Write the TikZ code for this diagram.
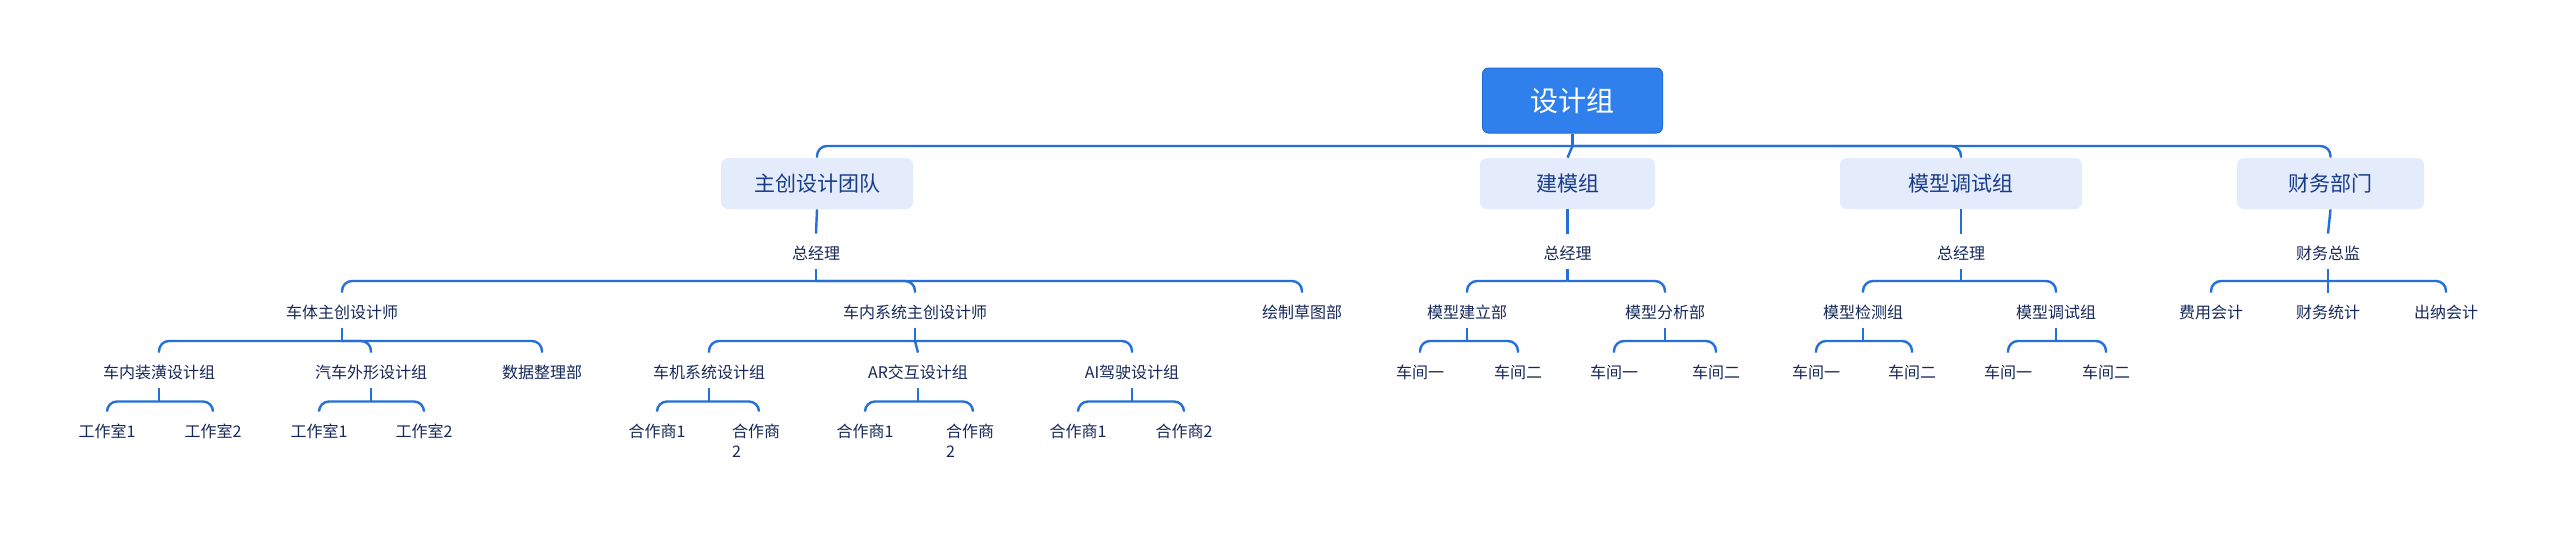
\documentclass[tikz,border=0pt]{standalone}
\usepackage{fontspec}
\newfontfamily\cjk{Noto Sans CJK SC}
\definecolor{linecol}{RGB}{36,112,216}
\definecolor{rootfill}{RGB}{47,128,237}
\definecolor{rootborder}{RGB}{32,108,214}
\definecolor{lonefill}{RGB}{228,236,252}
\definecolor{lonetext}{RGB}{24,60,140}
\definecolor{txtcol}{RGB}{22,40,90}
\newcommand\myfan[3]{%
  \draw[conn] (#1.south) -- (#1.south |- 0,#2);
  \foreach \kid in {#3}{\draw[conn,rounded corners=5pt] (#1.south |- 0,#2) -| (\kid.north);}
}
\newcommand\wrapped{\makebox[27pt][l]{合作商\llap{\makebox[24pt][l]{\raisebox{-10pt}{2}}}}}
\begin{document}
\begin{tikzpicture}[x=0.5pt,y=-0.5pt,
  conn/.style={draw=linecol,line width=1.2pt},
  rootbox/.style={fill=rootfill,draw=rootborder,line width=0.5pt,rounded corners=3pt,
    minimum width=90pt,minimum height=32.5pt,inner sep=0pt,text=white,
    font=\cjk\fontsize{14}{16}\selectfont},
  lonebox/.style={fill=lonefill,draw=none,rounded corners=3.5pt,minimum height=25.5pt,
    inner sep=0pt,text=lonetext,font=\cjk\fontsize{10.5}{12}\selectfont},
  t/.style={font=\cjk\fontsize{8}{10}\selectfont,text=txtcol,inner sep=0pt,
    text height=12.5pt,text depth=5pt,anchor=base}]
\useasboundingbox[fill=white] (0,0) rectangle (2560,537);
% root and level 1
\node[rootbox] (r) at (1572.5,100.5) {设计组};
\node[lonebox,minimum width=96pt] (a) at (817,183.5) {主创设计团队\hspace{9pt}};
\node[lonebox,minimum width=87.5pt] (b) at (1567.5,183.5) {建模组};
\node[lonebox,minimum width=121pt] (c) at (1961,183.5) {模型调试组};
\node[lonebox,minimum width=93.5pt] (d) at (2330.5,183.5) {财务部门};
% level 2
\node[t] (a1) at (816,259) {总经理};
\node[t] (b1) at (1567.5,259) {总经理};
\node[t] (c1) at (1961,259) {总经理};
\node[t] (d1) at (2328,259) {财务总监};
% level 3
\node[t] (a11) at (342,318) {车体主创设计师};
\node[t] (a12) at (915,318) {车内系统主创设计师};
\node[t] (a13) at (1302,318) {绘制草图部};
\node[t] (b11) at (1467,318) {模型建立部};
\node[t] (b12) at (1665,318) {模型分析部};
\node[t] (c11) at (1863,318) {模型检测组};
\node[t] (c12) at (2056,318) {模型调试组};
\node[t] (d11) at (2211,318) {费用会计};
\node[t] (d12) at (2328,318) {财务统计};
\node[t] (d13) at (2446,318) {出纳会计};
% level 4
\node[t] (a111) at (159,378) {车内装潢设计组};
\node[t] (a112) at (371,378) {汽车外形设计组};
\node[t] (a113) at (542,378) {数据整理部};
\node[t] (a121) at (709,378) {车机系统设计组};
\node[t] (a122) at (918,378) {AR交互设计组};
\node[t] (a123) at (1132,378) {AI驾驶设计组};
\node[t] (b111) at (1420,378) {车间一};
\node[t] (b112) at (1518,378) {车间二};
\node[t] (b121) at (1614,378) {车间一};
\node[t] (b122) at (1716,378) {车间二};
\node[t] (c111) at (1816,378) {车间一};
\node[t] (c112) at (1912,378) {车间二};
\node[t] (c121) at (2008,378) {车间一};
\node[t] (c122) at (2106,378) {车间二};
% level 5
\node[t] (a1111) at (107,437) {工作室1};
\node[t] (a1112) at (213,437) {工作室2};
\node[t] (a1121) at (319,437) {工作室1};
\node[t] (a1122) at (424,437) {工作室2};
\node[t] (a1211) at (657,437) {合作商1};
\node[t] (a1212) at (759,437) {\wrapped};
\node[t] (a1221) at (865,437) {合作商1};
\node[t] (a1222) at (973,437) {\wrapped};
\node[t] (a1231) at (1078,437) {合作商1};
\node[t] (a1232) at (1184,437) {合作商2};
% connectors
\myfan{r}{146}{a,c,d}
\draw[conn] (r.south |- 0,146) -- (b.north);
\draw[conn] (a.south) -- (a1.north);
\draw[conn] (b.south) -- (b1.north);
\draw[conn] (c.south) -- (c1.north);
\draw[conn] (d.south) -- (d1.north);
\myfan{a1}{281}{a11,a12,a13}
\myfan{b1}{281}{b11,b12}
\myfan{c1}{281}{c11,c12}
\myfan{d1}{281}{d11,d13}
\draw[conn] (d1.south |- 0,281) -- (d12.north);
\myfan{a11}{341}{a111,a112,a113}
\myfan{a12}{341}{a121,a123}
\draw[conn] (a12.south |- 0,341) -- (a122.north);
\myfan{b11}{341}{b111,b112}
\myfan{b12}{341}{b121,b122}
\myfan{c11}{341}{c111,c112}
\myfan{c12}{341}{c121,c122}
\myfan{a111}{401.5}{a1111,a1112}
\myfan{a112}{401.5}{a1121,a1122}
\myfan{a121}{401.5}{a1211,a1212}
\myfan{a122}{401.5}{a1221,a1222}
\myfan{a123}{401.5}{a1231,a1232}
\end{tikzpicture}
\end{document}
